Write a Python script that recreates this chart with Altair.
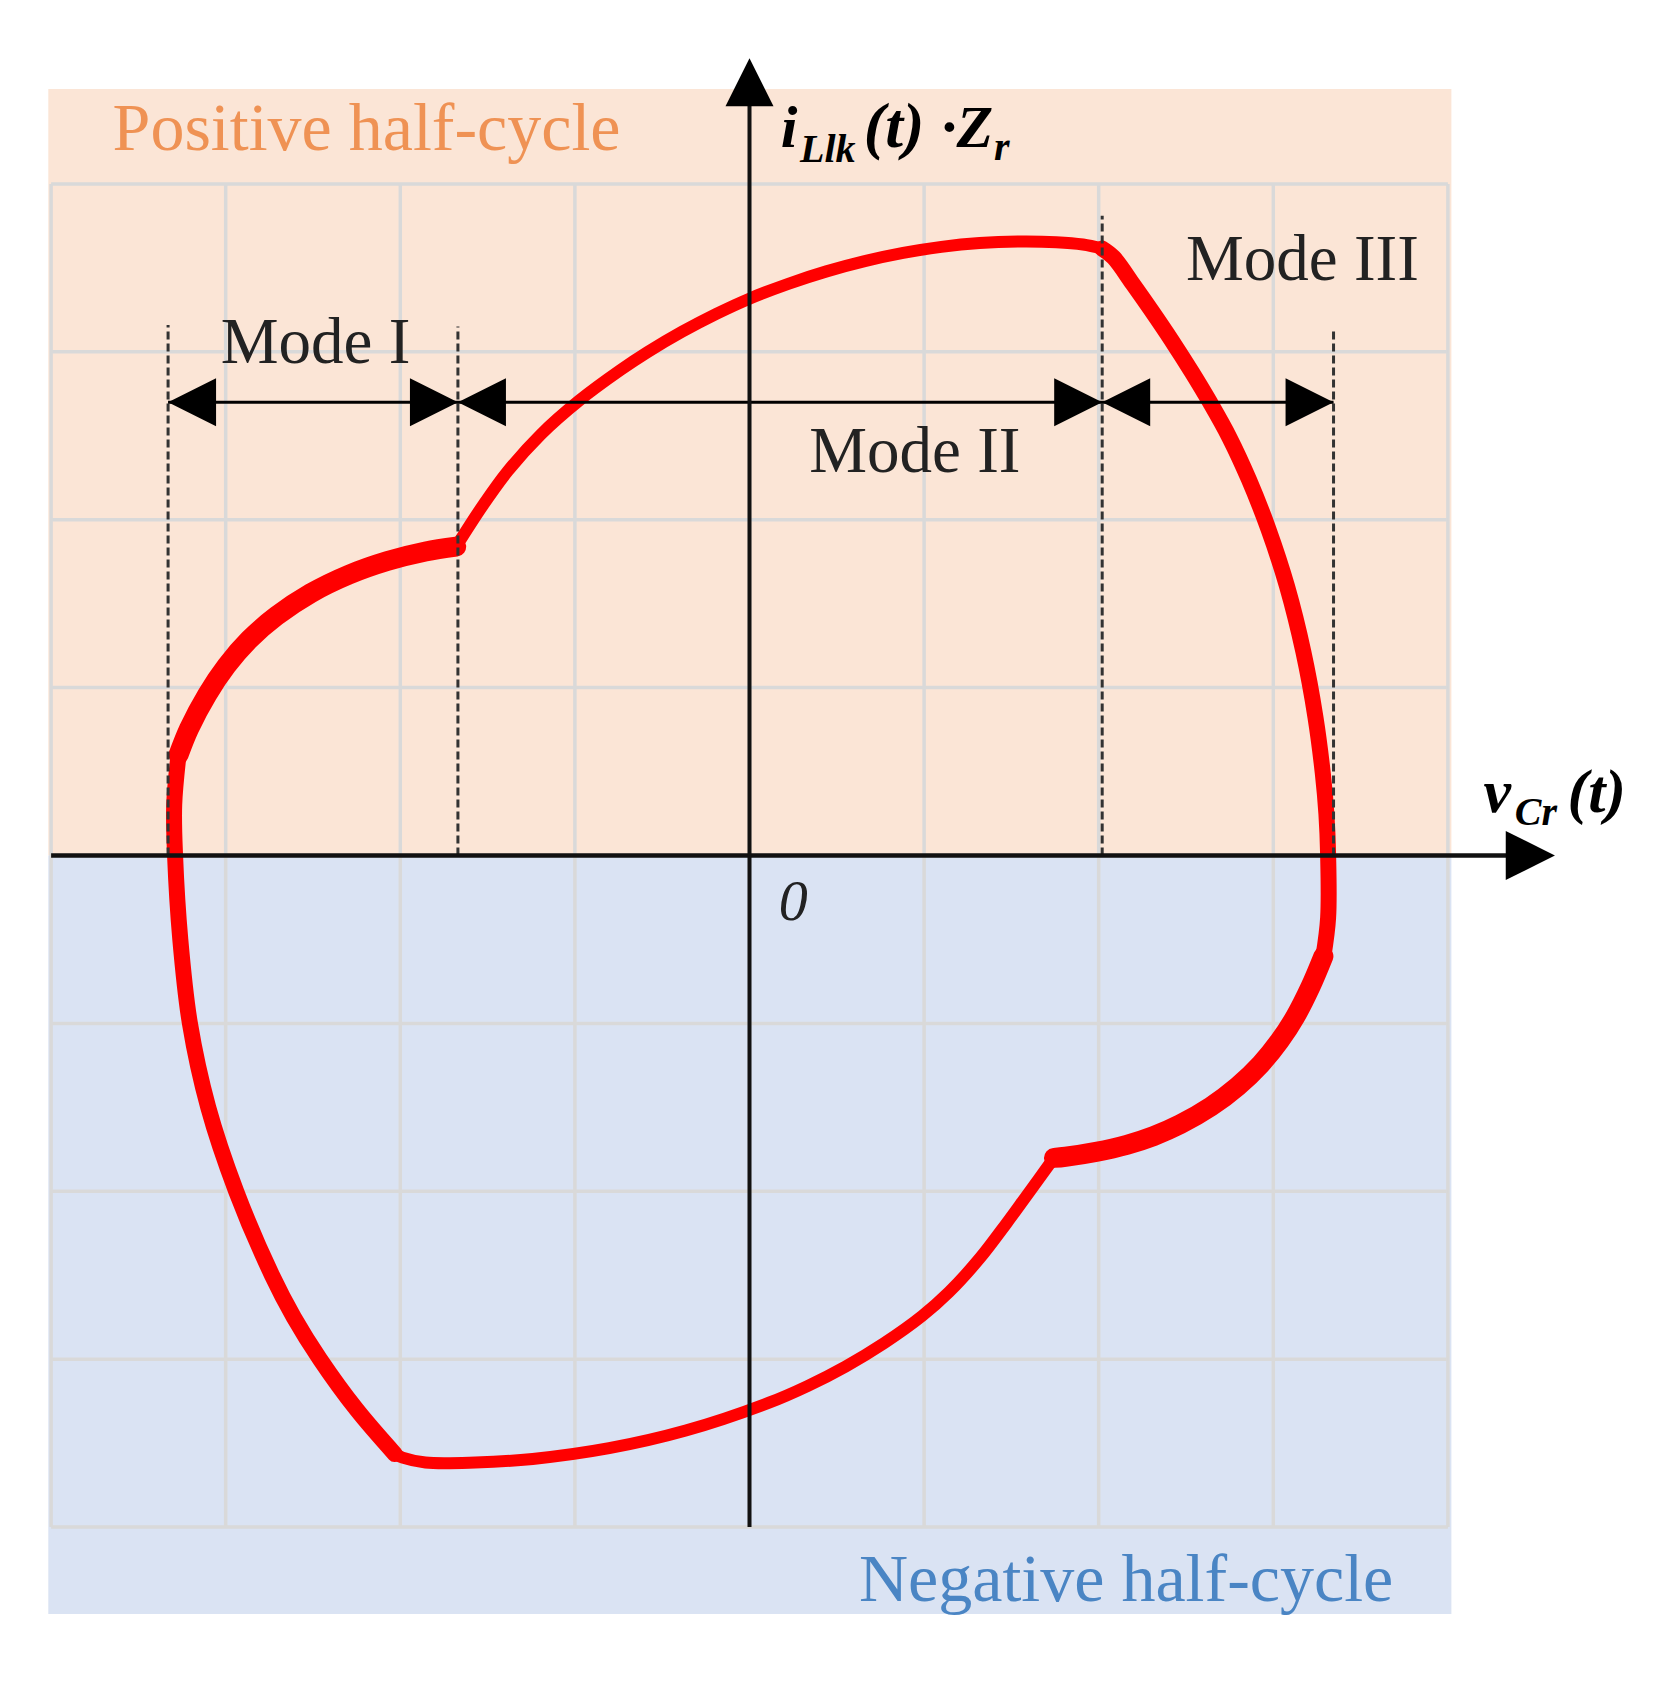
import altair as alt
import pandas as pd

# ---------------- data (grid units: one grid cell = 1) ----------------
# positive half-cycle
pos_m1_u = [-3.270, -3.210, -3.105, -2.995, -2.864, -2.710, -2.513, -2.294, -2.074, -1.855, -1.680]
pos_m1_v = [0.600, 0.755, 0.960, 1.130, 1.287, 1.426, 1.562, 1.673, 1.754, 1.811, 1.840]
pos_m2_u = [-1.680, -1.526, -1.384, -1.195, -0.975, -0.738, -0.584, -0.387, -0.190, 0.003, 0.222,
            0.441, 0.660, 0.880, 1.099, 1.318, 1.537, 1.757, 1.910, 2.019]
pos_m2_v = [1.840, 2.087, 2.290, 2.508, 2.710, 2.892, 2.998, 3.119, 3.226, 3.318, 3.405,
            3.479, 3.540, 3.589, 3.625, 3.648, 3.657, 3.653, 3.639, 3.615]
pos_m3_u = [2.019, 2.085, 2.196, 2.304, 2.422, 2.534, 2.639, 2.748, 2.860, 2.972, 3.079,
            3.172, 3.241, 3.284, 3.304, 3.314, 3.314, 3.287]
pos_m3_v = [3.615, 3.562, 3.403, 3.243, 3.061, 2.878, 2.696, 2.491, 2.240, 1.944, 1.602,
            1.214, 0.827, 0.485, 0.250, 0.000, -0.370, -0.600]
# negative half-cycle
neg_m1_u = [3.287, 3.213, 3.125, 3.037, 2.928, 2.796, 2.643, 2.468, 2.314, 2.161, 1.985, 1.810, 1.744]
neg_m1_v = [-0.600, -0.782, -0.962, -1.103, -1.243, -1.375, -1.495, -1.600, -1.671, -1.723, -1.765,
            -1.794, -1.801]
neg_m2_u = [1.744, 1.581, 1.471, 1.318, 1.143, 0.989, 0.770, 0.551, 0.332, 0.112, -0.365, -0.804,
            -1.242, -1.570, -1.856, -1.987, -2.031]
neg_m2_v = [-1.801, -2.035, -2.192, -2.400, -2.600, -2.742, -2.905, -3.043, -3.160, -3.259, -3.425,
            -3.530, -3.594, -3.615, -3.615, -3.586, -3.565]
neg_m3_u = [-2.031, -2.250, -2.460, -2.610, -2.735, -2.940, -3.100, -3.205, -3.260, -3.290, -3.295, -3.270]
neg_m3_v = [-3.565, -3.300, -3.000, -2.750, -2.500, -2.000, -1.500, -1.000, -0.500, 0.000, 0.300, 0.600]

# mode boundaries (dashed lines) and their top ends
boundary_u = [-3.33, -1.67, 2.02, 3.345]
boundary_top = [3.16, 3.15, 3.81, 3.14]
arrow_level = 2.70

grid_ticks = [-4, -3, -2, -1, 0, 1, 2, 3, 4]

mode_labels = ["Mode I", "Mode II", "Mode III"]
half_labels = ["Positive half-cycle", "Negative half-cycle"]

# ---------------- layout ----------------
W, H = 1659, 1665
PX_U, PX_V = 174.6, 167.9          # pixels per grid unit
X0, Y0 = 741.5, 847.5               # pixel position of the origin
u_dom = [-X0 / PX_U, (W - X0) / PX_U]
v_dom = [(Y0 - H) / PX_V, Y0 / PX_V]
xs = alt.Scale(domain=u_dom, zero=False, nice=False)
ys = alt.Scale(domain=v_dom, zero=False, nice=False)


def X(f):
    return alt.X(f, type="quantitative", scale=xs, axis=None)


def Y(f):
    return alt.Y(f, type="quantitative", scale=ys, axis=None)


layers = []

# background bands
bg = pd.DataFrame({
    "u": [-4.016, -4.016], "u2": [4.02, 4.02],
    "v": [0.0, -4.518], "v2": [4.565, 0.0],
    "c": ["#FBE5D6", "#DAE3F3"],
})
layers.append(alt.Chart(bg).mark_rect().encode(
    x=X("u"), x2="u2", y=Y("v"), y2="v2", color=alt.Color("c:N", scale=None)))

# grid
gdf = pd.DataFrame({"t": grid_ticks, "lo": -4, "hi": 4})
layers.append(alt.Chart(gdf).mark_rule(color="#D9D9D9", strokeWidth=3.5).encode(
    x=X("t"), y=Y("lo"), y2="hi"))
layers.append(alt.Chart(gdf).mark_rule(color="#D9D9D9", strokeWidth=3.5).encode(
    y=Y("t"), x=X("lo"), x2="hi"))

# curve
rows = []
segs = [
    ("pI", "I", pos_m1_u, pos_m1_v), ("pII", "II", pos_m2_u, pos_m2_v),
    ("pIII", "III", pos_m3_u, pos_m3_v), ("nI", "I", neg_m1_u, neg_m1_v),
    ("nII", "II", neg_m2_u, neg_m2_v), ("nIII", "III", neg_m3_u, neg_m3_v),
]
for name, mode, us, vs in segs:
    for k, (a, b) in enumerate(zip(us, vs)):
        rows.append({"seg": name, "mode": mode, "k": k, "u": a, "v": b})
curve = pd.DataFrame(rows)
widths = {"II": 12, "III": 16, "I": 20}
for mode, w in widths.items():
    layers.append(alt.Chart(curve[curve["mode"] == mode]).mark_line(
        color="#FF0000", strokeWidth=w, strokeCap="round", strokeJoin="round",
        interpolate="catmull-rom").encode(
        x=X("u"), y=Y("v"), detail="seg:N", order="k:Q"))

# dashed boundaries
bdf = pd.DataFrame({"u": boundary_u, "lo": 0.0, "hi": boundary_top})
layers.append(alt.Chart(bdf).mark_rule(color="#333333", strokeWidth=3, strokeDash=[8, 4]).encode(
    x=X("u"), y=Y("lo"), y2="hi"))

# mode arrow line
adf = pd.DataFrame({"a": [boundary_u[0]], "b": [boundary_u[-1]], "v": [arrow_level]})
layers.append(alt.Chart(adf).mark_rule(color="black", strokeWidth=3).encode(
    x=X("a"), x2="b", y=Y("v")))

RIGHT = "M0,0L-1,-0.5L-1,0.5Z"
LEFT = "M0,0L1,-0.5L1,0.5Z"
UP = "M0,0L-0.5,1L0.5,1Z"
HEAD = 9216

left_heads = pd.DataFrame({"u": [boundary_u[0], boundary_u[1], boundary_u[2]], "v": arrow_level})
right_heads = pd.DataFrame({"u": [boundary_u[1], boundary_u[2], boundary_u[3]], "v": arrow_level})
layers.append(alt.Chart(left_heads).mark_point(shape=LEFT, size=HEAD, filled=True, color="black",
                                               opacity=1, strokeWidth=0).encode(x=X("u"), y=Y("v")))
layers.append(alt.Chart(right_heads).mark_point(shape=RIGHT, size=HEAD, filled=True, color="black",
                                                opacity=1, strokeWidth=0).encode(x=X("u"), y=Y("v")))

# axes
xa = pd.DataFrame({"a": [-4.0], "b": [4.36], "v": [0.0]})
layers.append(alt.Chart(xa).mark_rule(color="#111111", strokeWidth=4.5).encode(
    x=X("a"), x2="b", y=Y("v")))
ya = pd.DataFrame({"a": [-4.0], "b": [4.5], "u": [0.0]})
layers.append(alt.Chart(ya).mark_rule(color="#111111", strokeWidth=4).encode(
    y=Y("a"), y2="b", x=X("u")))
layers.append(alt.Chart(pd.DataFrame({"u": [4.613], "v": [0.0]})).mark_point(
    shape=RIGHT, size=HEAD * 1.05, filled=True, color="black", opacity=1, strokeWidth=0).encode(
    x=X("u"), y=Y("v")))
layers.append(alt.Chart(pd.DataFrame({"u": [0.0], "v": [4.748]})).mark_point(
    shape=UP, size=HEAD, filled=True, color="black", opacity=1, strokeWidth=0).encode(
    x=X("u"), y=Y("v")))


# texts
def txt(s, u, v, size, color="#222222", font="Liberation Serif", style="normal", weight="normal"):
    d = pd.DataFrame({"u": [u], "v": [v], "s": [s]})
    return alt.Chart(d).mark_text(align="left", baseline="alphabetic", font=font, fontSize=size,
                                  fontStyle=style, fontWeight=weight, color=color).encode(
        x=X("u"), y=Y("v"), text="s:N")


layers.append(txt(half_labels[0], -3.648, 4.202, 68, color="#EF9254"))
layers.append(txt(half_labels[1], 0.627, -4.441, 68, color="#4A85C4"))
layers.append(txt(mode_labels[0], -3.028, 2.936, 65))
layers.append(txt(mode_labels[1], 0.3425, 2.286, 65))
layers.append(txt(mode_labels[2], 2.50, 3.425, 65))
layers.append(txt("0", 0.167, -0.383, 58, style="italic"))

# y-axis label  i_Llk(t) ·Z_r
layers.append(txt("i", 0.179, 4.222, 60, color="black", style="italic", weight="bold"))
layers.append(txt("Llk", 0.289, 4.132, 40, color="black", style="italic", weight="bold"))
layers.append(txt("(t)", 0.655, 4.222, 64, color="black", style="italic", weight="bold"))
layers.append(txt("·Z", 1.10, 4.222, 60, color="black", style="italic", weight="bold"))
layers.append(txt("r", 1.40, 4.142, 40, color="black", style="italic", weight="bold"))

# x-axis label  v_Cr(t)
layers.append(txt("v", 4.204, 0.261, 62, color="black", style="italic", weight="bold"))
layers.append(txt("Cr", 4.383, 0.182, 40, color="black", style="italic", weight="bold"))
layers.append(txt("(t)", 4.685, 0.261, 62, color="black", style="italic", weight="bold"))

chart = alt.layer(*layers).properties(
    width=W, height=H, padding=0,
    autosize=alt.AutoSizeParams(type="none"), background="white",
).configure_view(stroke=None)

chart.save("out.html", embed_options={"renderer": "svg", "actions": False})
